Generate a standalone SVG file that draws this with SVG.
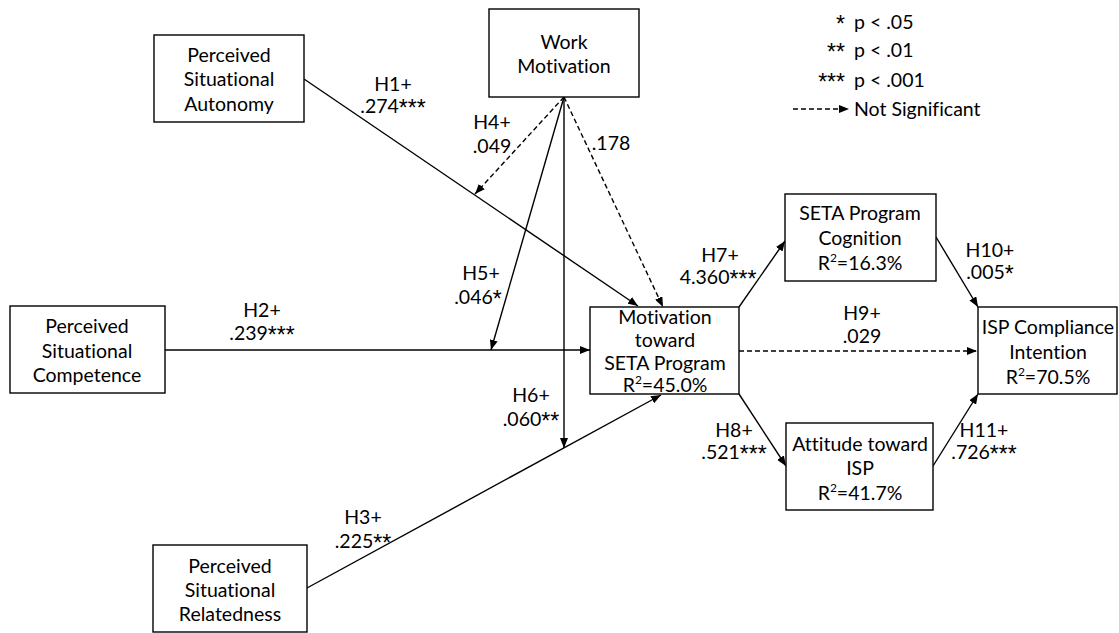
<svg xmlns="http://www.w3.org/2000/svg" width="1119" height="633" viewBox="0 0 1119 633">
<style>
text{font-family:Lato,"Liberation Sans",sans-serif;font-size:19.5px;fill:#000;text-anchor:middle;font-variant-ligatures:none}
.box{fill:#fff;stroke:#000;stroke-width:1.4}
.e{stroke:#000;stroke-width:1.4;fill:none;marker-end:url(#ah)}
.d{stroke-dasharray:5,3}
.sup{font-size:12px}
.a{font-family:"Liberation Sans",sans-serif;font-size:23px}
.l{text-anchor:start}
.r{text-anchor:end}
</style>
<defs>
<marker id="ah" markerUnits="userSpaceOnUse" markerWidth="10" markerHeight="8" refX="10" refY="4" orient="auto">
<path d="M0,0 L10,4 L0,8 z" fill="#000"/>
</marker>
</defs>
<rect width="1119" height="633" fill="#fff"/>
<g id="connectors">
<line class="e" x1="304" y1="79" x2="638" y2="306"/>
<line class="e" x1="165" y1="350" x2="590" y2="350"/>
<line class="e" x1="307" y1="588" x2="661" y2="395"/>
<line class="e d" x1="564" y1="97" x2="475" y2="194"/>
<line class="e" x1="564" y1="97" x2="491" y2="350"/>
<line class="e" x1="564" y1="97" x2="564" y2="448"/>
<line class="e d" x1="564" y1="97" x2="663" y2="307"/>
<line class="e" x1="739" y1="307" x2="785" y2="241"/>
<line class="e" x1="739" y1="394" x2="786" y2="466"/>
<line class="e d" x1="739" y1="351" x2="977" y2="351"/>
<line class="e" x1="936" y1="237" x2="978" y2="307"/>
<line class="e" x1="933" y1="466" x2="978" y2="394"/>
</g>
<g id="edge-labels">
<text x="393" y="91">H1+</text><text x="393" y="113">.274<tspan class="a" dy="3">***</tspan></text>
<text x="262" y="317">H2+</text><text x="262" y="340">.239<tspan class="a" dy="3">***</tspan></text>
<text x="363" y="524">H3+</text><text x="363" y="548">.225<tspan class="a" dy="3">**</tspan></text>
<text x="492" y="129">H4+</text><text x="492" y="153">.049</text>
<text x="481" y="280">H5+</text><text x="478" y="304">.046<tspan class="a" dy="3">*</tspan></text>
<text x="531" y="402">H6+</text><text x="531" y="426">.060<tspan class="a" dy="3">**</tspan></text>
<text x="611" y="150">.178</text>
<text x="720" y="262">H7+</text><text x="718" y="284">4.360<tspan class="a" dy="3">***</tspan></text>
<text x="734" y="437">H8+</text><text x="734" y="459">.521<tspan class="a" dy="3">***</tspan></text>
<text x="862" y="320">H9+</text><text x="862" y="343">.029</text>
<text x="990" y="257">H10+</text><text x="990" y="279">.005<tspan class="a" dy="3">*</tspan></text>
<text x="984" y="437">H11+</text><text x="984" y="459">.726<tspan class="a" dy="3">***</tspan></text>
</g>
<g id="autonomy">
<rect class="box" x="154" y="35" width="150" height="87"/>
<text x="229" y="62">Perceived</text><text x="229" y="86">Situational</text><text x="229" y="111">Autonomy</text>
</g>
<g id="work-motivation">
<rect class="box" x="489" y="9" width="150" height="88"/>
<text x="564" y="49">Work</text><text x="564" y="73">Motivation</text>
</g>
<g id="competence">
<rect class="box" x="10" y="306" width="155" height="87"/>
<text x="87" y="333">Perceived</text><text x="87" y="358">Situational</text><text x="87" y="382">Competence</text>
</g>
<g id="motivation-seta">
<rect class="box" x="590" y="307" width="149" height="87"/>
<text x="665" y="324">Motivation</text><text x="665" y="347">toward</text><text x="665" y="370">SETA Program</text>
<text x="665" y="392">R<tspan class="sup" dy="-8">2</tspan><tspan dy="8">=45.0%</tspan></text>
</g>
<g id="seta-cognition">
<rect class="box" x="785" y="194" width="151" height="87"/>
<text x="860" y="220">SETA Program</text><text x="860" y="245">Cognition</text>
<text x="860" y="270">R<tspan class="sup" dy="-8">2</tspan><tspan dy="8">=16.3%</tspan></text>
</g>
<g id="isp-compliance">
<rect class="box" x="978" y="307" width="139" height="87"/>
<text x="1048" y="334">ISP Compliance</text><text x="1048" y="359">Intention</text>
<text x="1048" y="384">R<tspan class="sup" dy="-8">2</tspan><tspan dy="8">=70.5%</tspan></text>
</g>
<g id="attitude">
<rect class="box" x="786" y="423" width="147" height="87"/>
<text x="860" y="451">Attitude toward</text><text x="860" y="475">ISP</text>
<text x="860" y="500">R<tspan class="sup" dy="-8">2</tspan><tspan dy="8">=41.7%</tspan></text>
</g>
<g id="relatedness">
<rect class="box" x="153" y="545" width="154" height="87"/>
<text x="230" y="573">Perceived</text><text x="230" y="597">Situational</text><text x="230" y="621">Relatedness</text>
</g>
<g id="legend">
<text class="r a" x="845" y="32">*</text><text class="l" x="854" y="29">p &lt; .05</text>
<text class="r a" x="845" y="60">**</text><text class="l" x="854" y="57">p &lt; .01</text>
<text class="r a" x="845" y="90">***</text><text class="l" x="854" y="87">p &lt; .001</text>
<line class="e d" x1="793" y1="109" x2="849" y2="109"/>
<text class="l" x="854" y="116">Not Significant</text>
</g>
</svg>
